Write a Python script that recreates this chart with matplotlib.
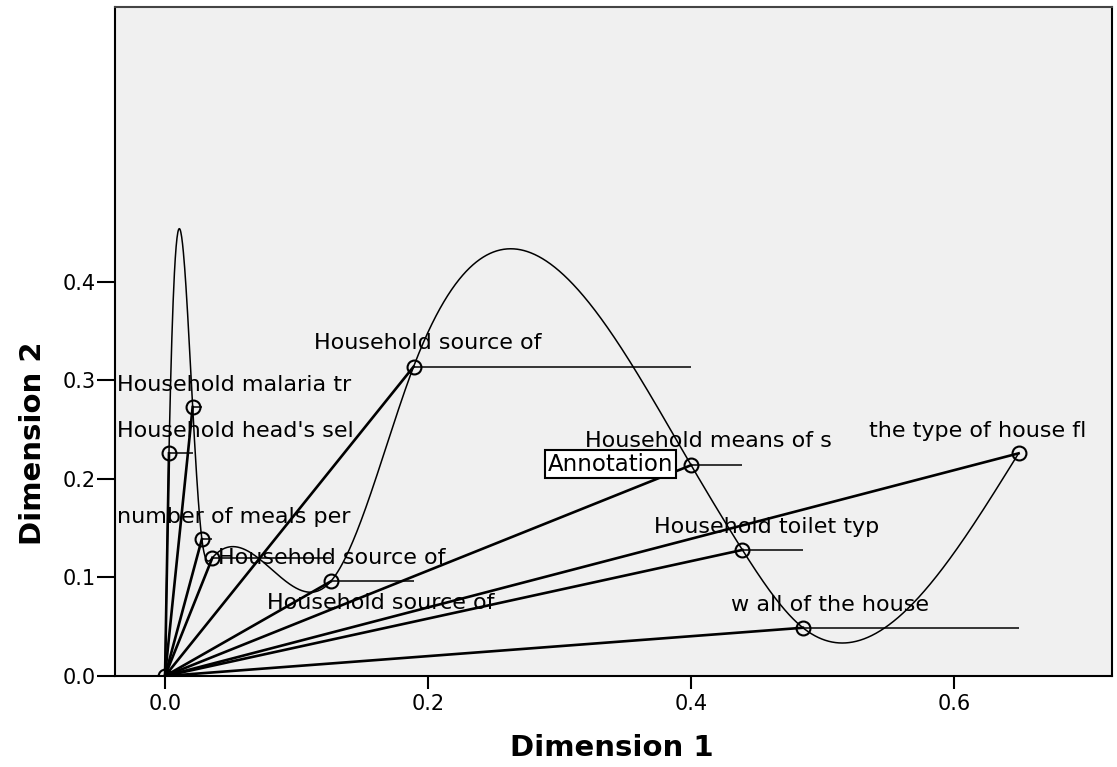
import numpy as np
import matplotlib
matplotlib.use("Agg")
import matplotlib.pyplot as plt

# Discrimination measures (Dimension 1, Dimension 2)
names = ["", "Household head's sel", "Household malaria tr", "number of meals per",
         "Household source of", "Household source of", "Household source of",
         "Household means of s", "Household toilet typ", "w all of the house",
         "the type of house fl"]
dim1 = [0.000, 0.003, 0.021, 0.028, 0.036, 0.126, 0.189, 0.400, 0.439, 0.485, 0.649]
dim2 = [0.000, 0.226, 0.273, 0.139, 0.120, 0.096, 0.314, 0.214, 0.128, 0.049, 0.226]

# label anchor (left edge, vertical centre) in data units
label_x = [None, -0.0365, -0.0365, -0.0365, 0.040, 0.0776, 0.113, 0.319, 0.372, 0.430, 0.535]
label_y = [None, 0.249, 0.295, 0.161, 0.120, 0.074, 0.338, 0.239, 0.151, 0.072, 0.249]

x = np.array(dim1)
y = np.array(dim2)


def natural_spline(xk, yk, n=2000):
    # natural cubic spline through the knots
    k = len(xk)
    h = np.diff(xk)
    A = np.zeros((k, k))
    r = np.zeros(k)
    A[0, 0] = 1
    A[-1, -1] = 1
    for i in range(1, k - 1):
        A[i, i - 1] = h[i - 1]
        A[i, i] = 2 * (h[i - 1] + h[i])
        A[i, i + 1] = h[i]
        r[i] = 3 * ((yk[i + 1] - yk[i]) / h[i] - (yk[i] - yk[i - 1]) / h[i - 1])
    c = np.linalg.solve(A, r)
    b = (yk[1:] - yk[:-1]) / h - h * (2 * c[:-1] + c[1:]) / 3
    d = (c[1:] - c[:-1]) / (3 * h)
    xs = np.linspace(xk[0], xk[-1], n)
    idx = np.clip(np.searchsorted(xk, xs) - 1, 0, k - 2)
    t = xs - xk[idx]
    ys = yk[idx] + b[idx] * t + c[idx] * t ** 2 + d[idx] * t ** 3
    return xs, ys


fig = plt.figure(figsize=(11.17, 7.67), dpi=100)
ax = fig.add_axes([0.103, 0.1186, 0.8925, 0.8723])
ax.set_facecolor('#f0f0f0')

# spokes from the origin
for xi, yi in zip(x[1:], y[1:]):
    ax.plot([0, xi], [0, yi], color='black', lw=1.9, zorder=2)

# interpolation line
xs, ys = natural_spline(x, y)
ax.plot(xs, ys, color='black', lw=1.1, zorder=2)

# step segments
ax.hlines(y[:-1], x[:-1], x[1:], color='black', lw=1.1, zorder=2)

ax.plot(x, y, 'o', mfc='none', mec='black', ms=10, mew=1.5, zorder=3)

for i in range(1, len(names)):
    ax.text(label_x[i], label_y[i], names[i], fontsize=16, ha='left', va='center',
            zorder=4, clip_on=True)

ax.text(0.291, 0.215, "Annotation", fontsize=16.5, ha='left', va='center', zorder=5,
        bbox=dict(boxstyle='square,pad=0.12', fc='white', ec='black', lw=1.5))

ax.set_xlim(-0.038, 0.720)
ax.set_ylim(0, 0.679)
ax.set_xticks([0.0, 0.2, 0.4, 0.6])
ax.set_xticklabels(["0.0", "0.2", "0.4", "0.6"])
ax.set_yticks([0.0, 0.1, 0.2, 0.3, 0.4])
ax.set_yticklabels(["0.0", "0.1", "0.2", "0.3", "0.4"])
ax.tick_params(axis='x', length=9, width=1.5, pad=4, labelsize=15)
ax.tick_params(axis='y', length=13, width=1.5, pad=1, labelsize=15)

for s in ax.spines.values():
    s.set_linewidth(1.5)
ax.spines['top'].set_color('#444444')

ax.set_xlabel("Dimension 1", fontsize=21, fontweight='bold')
ax.set_ylabel("Dimension 2", fontsize=21, fontweight='bold')
ax.xaxis.set_label_coords(0.498, -0.086)
ax.yaxis.set_label_coords(-0.068, 0.348)

fig.savefig("out.png", dpi=100)
